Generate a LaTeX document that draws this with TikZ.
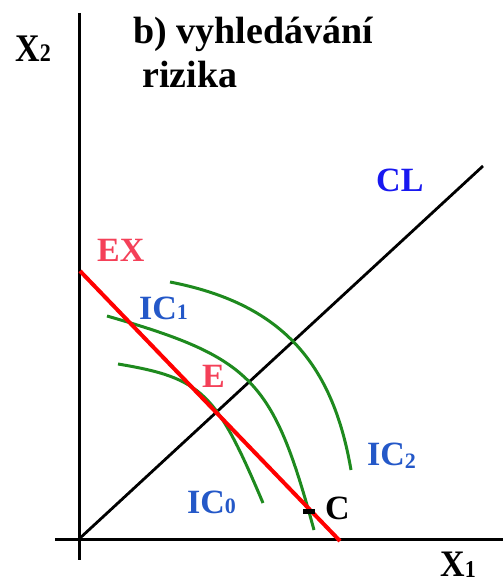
\documentclass[tikz,border=0pt]{standalone}
\usepackage{fontspec}
\usepackage{graphicx}
\setmainfont{Liberation Serif}
\definecolor{icgreen}{HTML}{1E8A1E}
\definecolor{exred}{HTML}{F44058}
\definecolor{icblue}{HTML}{2458C8}
\definecolor{clblue}{HTML}{1818F0}
\newcommand{\lowsub}[2]{\raisebox{#1}{\fontsize{22}{22}\selectfont #2}}
\begin{document}
\begin{tikzpicture}[x=1pt,y=-1pt,
  lbl/.style={inner sep=0pt,font=\fontsize{34}{34}\selectfont\bfseries},
  ttl/.style={inner sep=0pt,font=\fontsize{38}{38}\selectfont\bfseries},
  axis/.style={line width=3pt,black},
  ic/.style={line width=3pt,icgreen},
  ex/.style={line width=4pt,red}]
\useasboundingbox (0,0) rectangle (503,585);
% coordinates
\coordinate (ytop) at (79,13);
\coordinate (ybot) at (79,560);
\coordinate (xl) at (55,539);
\coordinate (xr) at (503,539);
\coordinate (O) at (79,539);
\coordinate (cltop) at (483,166);
\coordinate (exa) at (80,271);
\coordinate (exb) at (340,541);
% axes
\draw[axis] (ytop) -- (ybot);
\draw[axis] (xl) -- (xr);
% CL
\draw[line width=2.8pt] (O) -- (cltop);
% indifference curves
\coordinate (ic0a) at (118,364);
\coordinate (ic0b) at (263,503);
\coordinate (ic1a) at (107,316);
\coordinate (ic1b) at (314,530);
\coordinate (ic2a) at (170,282);
\coordinate (ic2b) at (351,470);
\draw[ic] (ic0a) .. controls (202,378) and (216,392) .. (ic0b);
\draw[ic] (ic1a) .. controls (253,358) and (273,380) .. (ic1b);
\draw[ic] (ic2a) .. controls (278,303) and (332,359) .. (ic2b);
% EX line
\draw[ex] (exa) -- (exb);
% point C marker
\node[fill=black,minimum width=12pt,minimum height=5pt,inner sep=0pt] (cm) at (309,511) {};
% labels
\node[ttl,anchor=base west] (t1) at (133,44) {b) vyhledávání};
\node[ttl,anchor=base west] (t2) at (142,88) {rizika};
\node[lbl,anchor=base west] (x2) at (15,62) {\scalebox{1}[1.15]{X\lowsub{0pt}{2}}};
\node[lbl,anchor=base west] (x1) at (440,576) {\scalebox{1}[1.1]{X\lowsub{-1pt}{1}}};
\node[lbl,anchor=base west,text=clblue] (cl) at (376,192) {CL};
\node[lbl,anchor=base west,text=exred] (exl) at (97,261) {EX};
\node[lbl,anchor=base west,text=icblue] (ic1l) at (139,319) {IC\lowsub{0pt}{1}};
\node[lbl,anchor=base west,text=exred] (el) at (202,387) {E};
\node[lbl,anchor=base west,text=icblue] (ic0l) at (187,513) {IC\lowsub{0pt}{0}};
\node[lbl,anchor=base west,text=icblue] (ic2l) at (367,465) {IC\lowsub{-3pt}{2}};
\node[lbl,anchor=base west] (cl2) at (325,519) {C};
\end{tikzpicture}
\end{document}
